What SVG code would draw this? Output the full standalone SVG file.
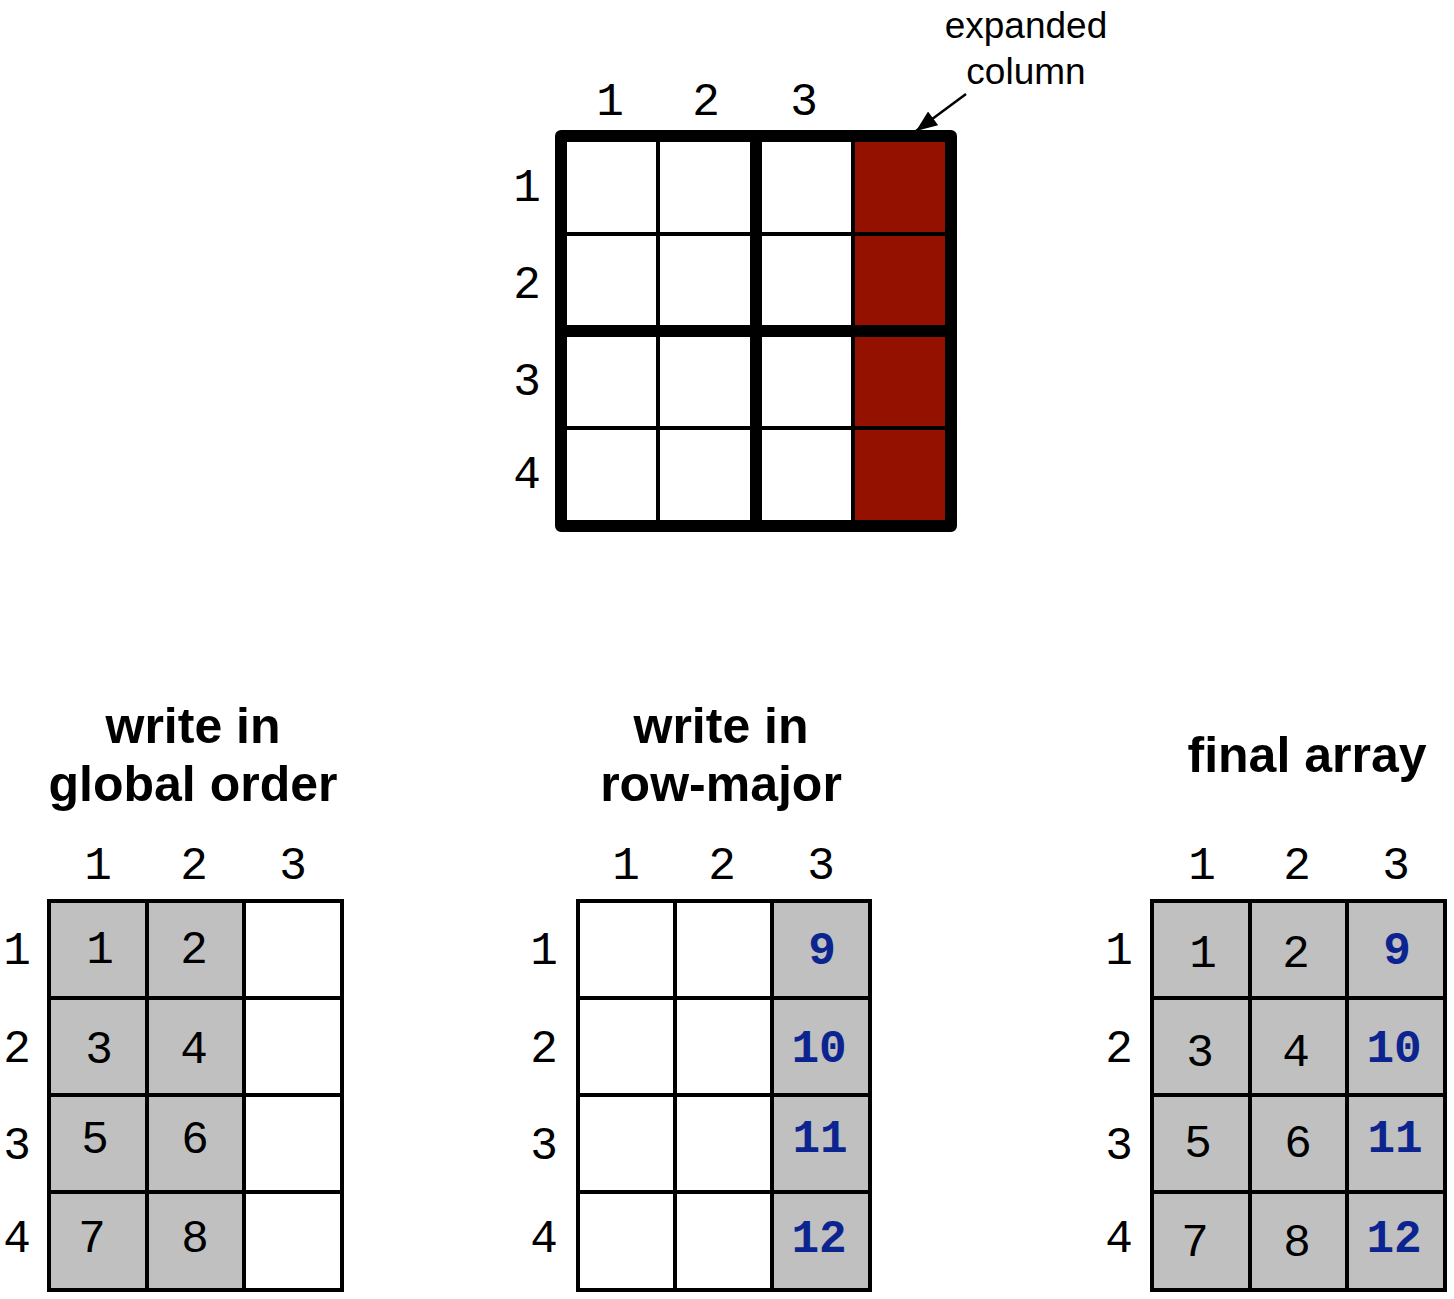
<svg xmlns="http://www.w3.org/2000/svg" width="1454" height="1299" viewBox="0 0 1454 1299">
<style>
.num{font-family:"Liberation Mono","DejaVu Sans Mono",monospace;font-size:46px;fill:#000;text-anchor:middle}
.blue{font-family:"Liberation Mono","DejaVu Sans Mono",monospace;font-size:46px;font-weight:bold;fill:#0c2490;text-anchor:middle}
.title{font-family:"Liberation Sans",Arial,sans-serif;font-size:50px;font-weight:bold;fill:#000;text-anchor:middle}
.note{font-family:"Liberation Sans",Arial,sans-serif;font-size:37px;fill:#000;text-anchor:middle}
.thin{stroke:#000;stroke-width:4;fill:none}
.thick{stroke:#000;stroke-width:12;fill:none;stroke-linejoin:round;stroke-linecap:round}
.cell{stroke:#000;stroke-width:4}
.g{fill:#c0c0c0}
.w{fill:#fff}
</style>
<defs>
<marker id="ahb" viewBox="0 0 20 16" refX="20" refY="8" markerWidth="22" markerHeight="17" markerUnits="userSpaceOnUse" orient="auto">
<path d="M0,0 L20,8 L0,16 z" fill="#000"/>
</marker>
</defs>

<g id="top-grid">
<rect x="853" y="136" width="98" height="390" fill="#941100"/>
<line class="thin" x1="658" y1="136" x2="658" y2="526"/>
<line class="thin" x1="853" y1="136" x2="853" y2="526"/>
<line class="thin" x1="561" y1="234" x2="951" y2="234"/>
<line class="thin" x1="561" y1="428" x2="951" y2="428"/>
<line class="thick" x1="756" y1="136" x2="756" y2="526"/>
<line class="thick" x1="561" y1="331" x2="951" y2="331"/>
<rect class="thick" x="561" y="136" width="390" height="390"/>
<text class="num" x="610" y="115">1</text>
<text class="num" x="706" y="115">2</text>
<text class="num" x="804" y="115">3</text>
<text class="num" x="527" y="201">1</text>
<text class="num" x="527" y="298">2</text>
<text class="num" x="527" y="395">3</text>
<text class="num" x="527" y="488">4</text>
</g>

<g id="expanded-label">
<text class="note" x="1026" y="38">expanded</text>
<text class="note" x="1026" y="84">column</text>
</g>

<g id="connectors">
<line x1="966" y1="94" x2="916" y2="131" stroke="#000" stroke-width="2.5" marker-end="url(#ahb)"/>
</g>

<g id="global-order">
<text class="title" x="193" y="743">write in</text>
<text class="title" x="193" y="801">global order</text>
<rect class="cell g" x="49" y="901" width="98" height="97"/>
<rect class="cell g" x="147" y="901" width="97" height="97"/>
<rect class="cell w" x="244" y="901" width="98" height="97"/>
<rect class="cell g" x="49" y="998" width="98" height="97"/>
<rect class="cell g" x="147" y="998" width="97" height="97"/>
<rect class="cell w" x="244" y="998" width="98" height="97"/>
<rect class="cell g" x="49" y="1095" width="98" height="97"/>
<rect class="cell g" x="147" y="1095" width="97" height="97"/>
<rect class="cell w" x="244" y="1095" width="98" height="97"/>
<rect class="cell g" x="49" y="1192" width="98" height="98"/>
<rect class="cell g" x="147" y="1192" width="97" height="98"/>
<rect class="cell w" x="244" y="1192" width="98" height="98"/>
<text class="num" x="98" y="879">1</text>
<text class="num" x="194" y="879">2</text>
<text class="num" x="293" y="879">3</text>
<text class="num" x="17" y="964">1</text>
<text class="num" x="17" y="1062">2</text>
<text class="num" x="17" y="1159">3</text>
<text class="num" x="17" y="1252">4</text>
<text class="num" x="100" y="963">1</text>
<text class="num" x="194" y="963">2</text>
<text class="num" x="99" y="1063">3</text>
<text class="num" x="194" y="1063">4</text>
<text class="num" x="95" y="1153">5</text>
<text class="num" x="195" y="1153">6</text>
<text class="num" x="92" y="1252">7</text>
<text class="num" x="195" y="1252">8</text>
</g>

<g id="row-major">
<text class="title" x="721" y="743">write in</text>
<text class="title" x="721" y="801">row-major</text>
<rect class="cell w" x="578" y="901" width="97" height="97"/>
<rect class="cell w" x="675" y="901" width="97" height="97"/>
<rect class="cell g" x="772" y="901" width="98" height="97"/>
<rect class="cell w" x="578" y="998" width="97" height="97"/>
<rect class="cell w" x="675" y="998" width="97" height="97"/>
<rect class="cell g" x="772" y="998" width="98" height="97"/>
<rect class="cell w" x="578" y="1095" width="97" height="97"/>
<rect class="cell w" x="675" y="1095" width="97" height="97"/>
<rect class="cell g" x="772" y="1095" width="98" height="97"/>
<rect class="cell w" x="578" y="1192" width="97" height="98"/>
<rect class="cell w" x="675" y="1192" width="97" height="98"/>
<rect class="cell g" x="772" y="1192" width="98" height="98"/>
<text class="num" x="626" y="879">1</text>
<text class="num" x="722" y="879">2</text>
<text class="num" x="821" y="879">3</text>
<text class="num" x="544" y="964">1</text>
<text class="num" x="544" y="1062">2</text>
<text class="num" x="544" y="1159">3</text>
<text class="num" x="544" y="1252">4</text>
<text class="blue" x="822" y="964">9</text>
<text class="blue" x="819" y="1062">10</text>
<text class="blue" x="820" y="1152">11</text>
<text class="blue" x="819" y="1252">12</text>
</g>

<g id="final-array">
<text class="title" x="1307" y="772">final array</text>
<rect class="cell g" x="1152" y="901" width="98" height="97"/>
<rect class="cell g" x="1250" y="901" width="97" height="97"/>
<rect class="cell g" x="1347" y="901" width="98" height="97"/>
<rect class="cell g" x="1152" y="998" width="98" height="97"/>
<rect class="cell g" x="1250" y="998" width="97" height="97"/>
<rect class="cell g" x="1347" y="998" width="98" height="97"/>
<rect class="cell g" x="1152" y="1095" width="98" height="97"/>
<rect class="cell g" x="1250" y="1095" width="97" height="97"/>
<rect class="cell g" x="1347" y="1095" width="98" height="97"/>
<rect class="cell g" x="1152" y="1192" width="98" height="98"/>
<rect class="cell g" x="1250" y="1192" width="97" height="98"/>
<rect class="cell g" x="1347" y="1192" width="98" height="98"/>
<text class="num" x="1202" y="879">1</text>
<text class="num" x="1297" y="879">2</text>
<text class="num" x="1396" y="879">3</text>
<text class="num" x="1119" y="964">1</text>
<text class="num" x="1119" y="1062">2</text>
<text class="num" x="1119" y="1159">3</text>
<text class="num" x="1119" y="1252">4</text>
<text class="num" x="1203" y="967">1</text>
<text class="num" x="1296" y="967">2</text>
<text class="blue" x="1397" y="964">9</text>
<text class="num" x="1200" y="1066">3</text>
<text class="num" x="1296" y="1066">4</text>
<text class="blue" x="1394" y="1062">10</text>
<text class="num" x="1198" y="1157">5</text>
<text class="num" x="1298" y="1157">6</text>
<text class="blue" x="1395" y="1152">11</text>
<text class="num" x="1195" y="1256">7</text>
<text class="num" x="1297" y="1256">8</text>
<text class="blue" x="1394" y="1252">12</text>
</g>
</svg>
